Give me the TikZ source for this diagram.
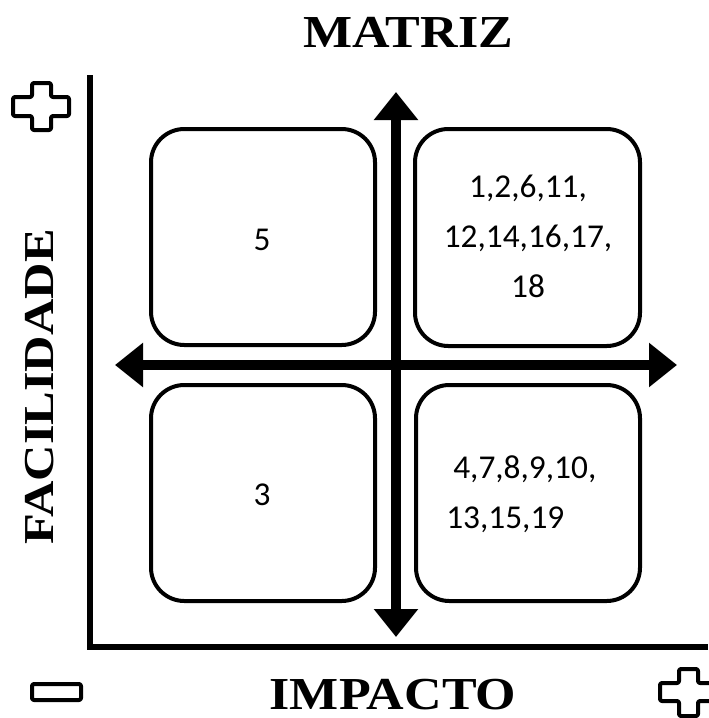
\documentclass[tikz,border=0pt]{standalone}
\usepackage{fontspec}
\setmainfont{Liberation Serif}
\newfontfamily\carlito{Carlito}
\usetikzlibrary{arrows.meta,calc}
\tikzset{
  quadbox/.style={draw=black, line width=3pt, rounded corners=25pt, fill=white},
  numtext/.style={font=\carlito\fontsize{25}{37.5}\selectfont, inner sep=0pt},
  bigtitle/.style={font=\bfseries\fontsize{39}{39}\selectfont, inner sep=0pt},
  axisline/.style={line width=4.5pt},
  bigarrow/.style={line width=7pt, {Triangle[length=21pt,width=32pt]}-{Triangle[length=21pt,width=32pt]}},
  signshape/.style={draw=black, line width=3pt, rounded corners=1.5pt, fill=white, line join=round}
}
\begin{document}
\begin{tikzpicture}[x=0.75pt, y=-0.75pt]
\useasboundingbox (0,0) rectangle (708,718);
% boxes
\draw[quadbox] (151,129) rectangle (375,345);
\draw[quadbox] (415,129) rectangle (640,346);
\draw[quadbox] (151,385) rectangle (375,601);
\draw[quadbox] (416,385) rectangle (640,601);
% arrows
\coordinate (vt) at (396,92);
\coordinate (vb) at (396,637);
\coordinate (hl) at (115,365);
\coordinate (hr) at (677,365);
\draw[bigarrow] (vb) -- (vt);
\draw[bigarrow] (hl) -- (hr);
% axes
\coordinate (yaxTop) at (90,75);
\coordinate (origin) at (90,647);
\coordinate (xaxEnd) at (708,647);
\draw[axisline] (yaxTop) -- (origin);
\draw[axisline] ($(origin)+(-3,0)$) -- (xaxEnd);
% texts
\node[numtext] (t5) at (262,240) {5};
\node[numtext] (t3) at (262,495) {3};
\node[numtext, align=center] (ttr) at (528,236) {1,2,6,11,\\12,14,16,17,\\18};
\node[numtext, align=left, anchor=west] (tbr) at (446,494) {\hspace*{5.25pt}4,7,8,9,10,\\13,15,19};
\node[bigtitle, anchor=base] (title) at (408,47) {\scalebox{1}[0.88]{MATRIZ}};
\node[bigtitle, anchor=base] (impacto) at (393,709) {\scalebox{1}[0.88]{IMPACTO}};
\node[bigtitle, anchor=base, rotate=90] (facil) at (53,387) {\scalebox{0.97}[0.82]{FACILIDADE}};
% signs
\draw[signshape] (13,97) -- (32,97) -- (32,83) -- (51,83) -- (51,97) -- (69,97) -- (69,116) -- (51,116) -- (51,130) -- (32,130) -- (32,116) -- (13,116) -- cycle;
\draw[signshape] (660,683) -- (679,683) -- (679,669) -- (698,669) -- (698,683) -- (716,683) -- (716,701) -- (698,701) -- (698,716) -- (679,716) -- (679,701) -- (660,701) -- cycle;
\draw[signshape] (32,684) rectangle (81,700);
\end{tikzpicture}
\end{document}
